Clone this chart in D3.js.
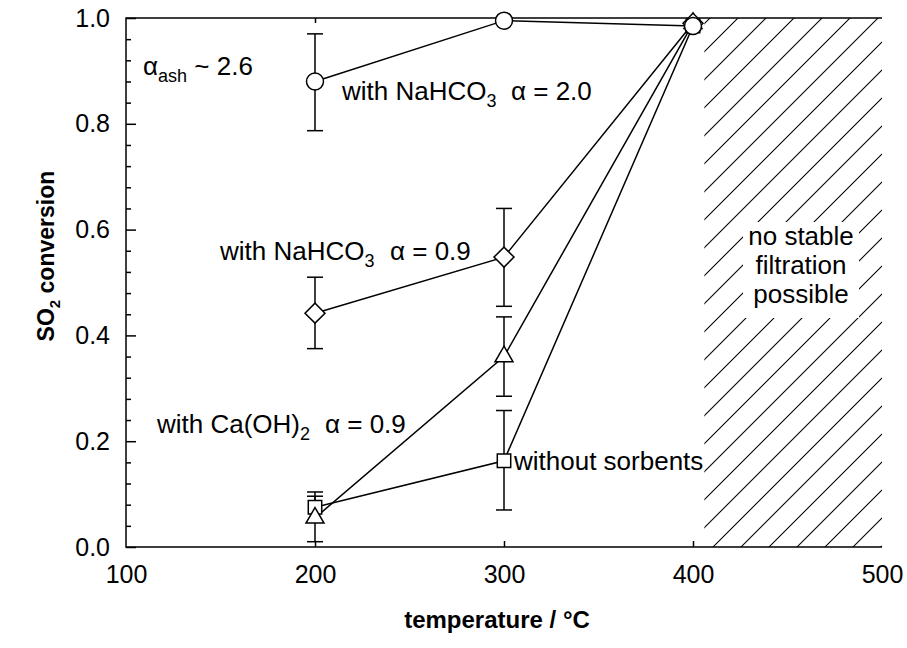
<!DOCTYPE html>
<html>
<head>
<meta charset="utf-8">
<script src="https://cdn.jsdelivr.net/npm/d3@7"></script>
<style>
  body { margin: 0; background: #fff; }
  text { font-family: "Liberation Sans", Arial, sans-serif; fill: #000; }
</style>
</head>
<body>
<svg width="907" height="648"></svg>
<script>
// data
var temps = [200, 300, 400];
var naHigh = [0.88, 0.995, 0.985];
var naHighLo = [0.787, null, null];
var naHighHi = [0.97, null, null];
var naLow = [0.442, 0.548, 0.99];
var naLowLo = [0.375, 0.455, null];
var naLowHi = [0.51, 0.64, null];
var caOH = [0.055, 0.36, 0.99];
var caOHLo = [0.01, 0.285, null];
var caOHHi = [0.096, 0.435, null];
var noSorb = [0.075, 0.163, 0.985];
var noSorbLo = [0.048, 0.07, null];
var noSorbHi = [0.104, 0.258, null];
var xTicks = [100, 200, 300, 400, 500];
var yTicks = [0.0, 0.2, 0.4, 0.6, 0.8, 1.0];
var hatchFrom = 406;

var svg = d3.select('svg');
var mLeft = 126, mRight = 882, mTop = 18, mBottom = 547;

var x = d3.scaleLinear().domain([100, 500]).range([mLeft, mRight]);
var y = d3.scaleLinear().domain([0, 1]).range([mBottom, mTop]);

// hatch pattern
var defs = svg.append('defs');
var pat = defs.append('pattern')
    .attr('id', 'hatch')
    .attr('patternUnits', 'userSpaceOnUse')
    .attr('width', 28).attr('height', 28);
[[0, 28, 28, 0], [-14, 14, 14, -14], [14, 42, 42, 14]].forEach(function(c) {
    pat.append('line')
        .attr('x1', c[0]).attr('y1', c[1]).attr('x2', c[2]).attr('y2', c[3])
        .style('stroke', '#000').style('stroke-width', 1.1);
});

svg.append('rect')
    .attr('x', x(hatchFrom)).attr('y', y(1))
    .attr('width', x(500) - x(hatchFrom))
    .attr('height', y(0) - y(1))
    .style('fill', 'url(#hatch)');

// white box behind hatch text
svg.append('rect')
    .attr('x', 743).attr('y', 222).attr('width', 116).attr('height', 96)
    .style('fill', '#fff');

// axes
var yAxisMinor = d3.axisRight(y).tickValues(d3.range(0, 1.0001, 0.04)).tickSize(5).tickFormat('');
var yAxis = d3.axisLeft(y).tickValues(yTicks).tickSize(0).tickPadding(16).tickFormat(d3.format('.1f'));
var xAxis = d3.axisBottom(x).tickValues(xTicks).tickSize(0).tickPadding(18).tickFormat(d3.format('d'));
var xAxisIn = d3.axisTop(x).tickValues(xTicks.slice(1, 4)).tickSize(6).tickFormat('');
var xAxisTop = d3.axisBottom(x).tickValues(xTicks.slice(1, 4)).tickSize(5).tickFormat('');

var gYm = svg.append('g').attr('transform', 'translate(' + mLeft + ',0)').call(yAxisMinor);
gYm.selectAll('.tick line').filter(function(d) { return Math.abs(d * 5 - Math.round(d * 5)) < 1e-6; })
    .attr('x2', 10);
var gY = svg.append('g').attr('transform', 'translate(' + mLeft + ',0)').call(yAxis);
var gX = svg.append('g').attr('transform', 'translate(0,' + mBottom + ')').call(xAxis);
var gXi = svg.append('g').attr('transform', 'translate(0,' + mBottom + ')').call(xAxisIn);
var gXt = svg.append('g').attr('transform', 'translate(0,' + mTop + ')').call(xAxisTop);
[gYm, gY, gX, gXi, gXt].forEach(function(g) {
    g.selectAll('.domain').remove();
    g.selectAll('.tick line').style('stroke', '#000').style('stroke-width', 1.5);
    g.selectAll('.tick text').style('font-size', '25px').style('font-family', '"Liberation Sans", Arial, sans-serif').style('fill', '#000');
});

// frame: top, left, bottom lines
svg.append('path')
    .attr('d', 'M' + mRight + ',' + mTop + 'H' + mLeft + 'V' + mBottom + 'H' + mRight)
    .style('fill', 'none').style('stroke', '#000').style('stroke-width', 1.5);

// axis titles
svg.append('text')
    .attr('x', 497).attr('y', 628)
    .attr('text-anchor', 'middle')
    .style('font-size', '24px').style('font-weight', 'bold')
    .text('temperature / °C');

var yt = svg.append('text')
    .attr('transform', 'translate(54,' + (y(0.55)) + ') rotate(-90)')
    .attr('text-anchor', 'middle')
    .style('font-size', '23px').style('font-weight', 'bold');
yt.append('tspan').text('SO');
yt.append('tspan').attr('dy', 6).style('font-size', '15px').text('2');
yt.append('tspan').attr('dy', -6).text(' conversion');

// series
var series = [
    {vals: noSorb, lo: noSorbLo, hi: noSorbHi, shape: 'square'},
    {vals: caOH, lo: caOHLo, hi: caOHHi, shape: 'triangle'},
    {vals: naLow, lo: naLowLo, hi: naLowHi, shape: 'diamond'},
    {vals: naHigh, lo: naHighLo, hi: naHighHi, shape: 'circle'}
];

var line = d3.line().x(function(d) { return x(d.t); }).y(function(d) { return y(d.v); });

series.forEach(function(s) {
    var pts = temps.map(function(t, i) { return {t: t, v: s.vals[i], lo: s.lo[i], hi: s.hi[i]}; });
    svg.append('path').datum(pts)
        .attr('d', line)
        .style('fill', 'none').style('stroke', '#000').style('stroke-width', 1.5);
    var eb = svg.append('g');
    pts.filter(function(d) { return d.lo != null; }).forEach(function(d) {
        eb.append('line')
            .attr('x1', x(d.t)).attr('x2', x(d.t)).attr('y1', y(d.lo)).attr('y2', y(d.hi))
            .style('stroke', '#000').style('stroke-width', 1.5);
        [d.lo, d.hi].forEach(function(v) {
            eb.append('line')
                .attr('x1', x(d.t) - 8).attr('x2', x(d.t) + 8).attr('y1', y(v)).attr('y2', y(v))
                .style('stroke', '#000').style('stroke-width', 1.5);
        });
    });
    s.pts = pts;
});

var symbols = {
    square: d3.symbol().type(d3.symbolSquare).size(180),
    triangle: d3.symbol().type(d3.symbolTriangle).size(140),
    diamond: d3.symbol().type(d3.symbolSquare).size(200),
    circle: d3.symbol().type(d3.symbolCircle).size(227)
};

series.forEach(function(s) {
    svg.append('g').selectAll('path').data(s.pts).enter().append('path')
        .attr('d', symbols[s.shape])
        .attr('transform', function(d) {
            return 'translate(' + x(d.t) + ',' + y(d.v) + ')' + (s.shape === 'diamond' ? ' rotate(45)' : '');
        })
        .style('fill', '#fff').style('stroke', '#000').style('stroke-width', 1.5);
});

// annotations
function label(xp, yp, parts) {
    var t = svg.append('text').attr('x', xp).attr('y', yp).style('font-size', '26px');
    parts.forEach(function(p) {
        var ts = t.append('tspan').text(p[0]);
        if (p[1] === 'sub') ts.attr('dy', 7).style('font-size', '18px');
        if (p[1] === 'up') ts.attr('dy', -7);
    });
    return t;
}

label(143, 75, [['α'], ['ash', 'sub'], [' ~ 2.6', 'up']]);
label(342, 100, [['with NaHCO'], ['3', 'sub']]);
label(511, 100, [['α = 2.0']]);
label(220, 260, [['with NaHCO'], ['3', 'sub']]);
label(390, 260, [['α = 0.9']]);
label(157, 433, [['with Ca(OH)'], ['2', 'sub']]);
label(325, 433, [['α = 0.9']]);
label(514, 470, [['without sorbents']]);

['no stable', 'filtration', 'possible'].forEach(function(s, i) {
    svg.append('text')
        .attr('x', 801).attr('y', 245 + i * 29)
        .attr('text-anchor', 'middle')
        .style('font-size', '26px')
        .text(s);
});
</script>
</body>
</html>
